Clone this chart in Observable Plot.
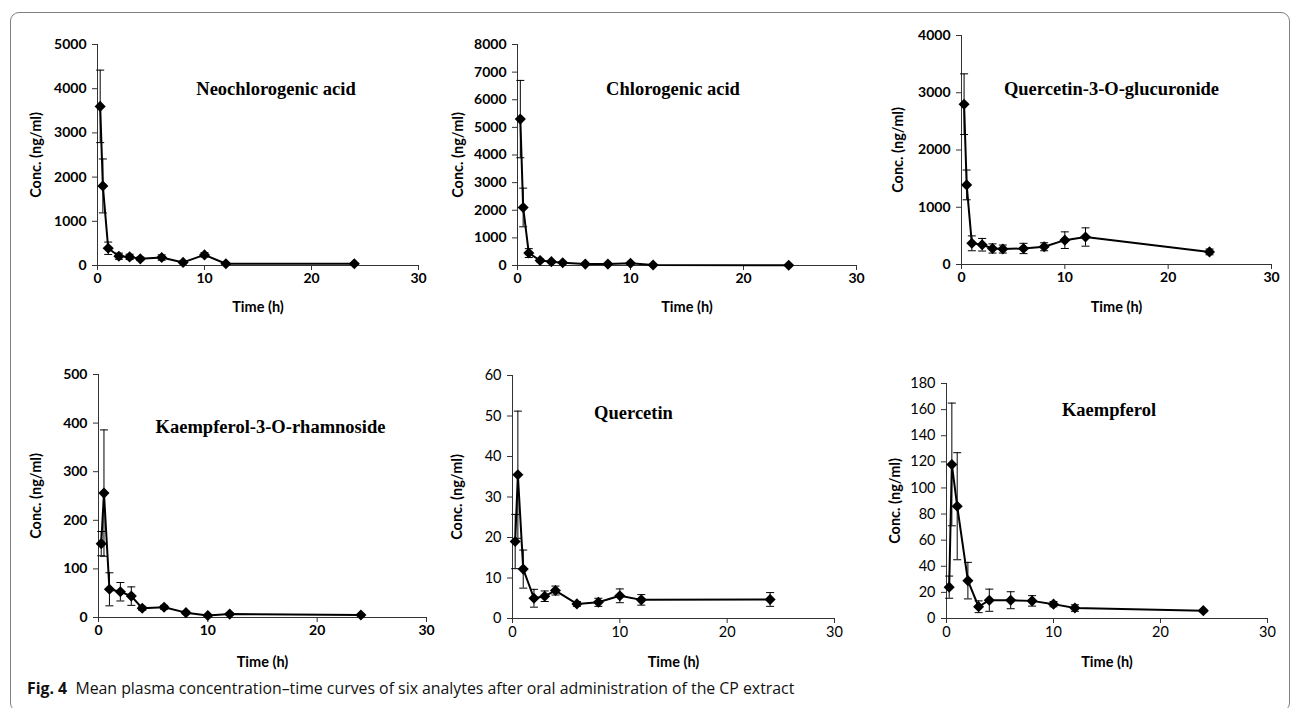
<!DOCTYPE html>
<html><head><meta charset="utf-8">
<script src="https://cdn.jsdelivr.net/npm/d3@7"></script>
<script src="https://cdn.jsdelivr.net/npm/@observablehq/plot@0.6"></script>
<style>
html,body{margin:0;padding:0;background:#fff}
body{width:1293px;height:708px;overflow:hidden;position:relative}
#frame{position:absolute;left:10px;top:12px;width:1280px;height:700px;border:1.5px solid #808080;border-radius:9px;box-sizing:border-box}
.panel{position:absolute}
.panel svg{background:transparent;max-width:none}
#caption{position:absolute;left:27px;top:677px;font-family:"Open Sans",sans-serif;font-size:16px;color:#111;white-space:nowrap;transform-origin:left center;transform:scaleX(0.99)}
#caption b{font-weight:700}
</style></head><body>
<div id="frame"></div>
<div id="charts"></div>
<div id="caption"><b>Fig. 4</b>&nbsp; Mean plasma concentration–time curves of six analytes after oral administration of the CP extract</div>
<script>
// ---- data ----
const times = [0.25, 0.5, 1, 2, 3, 4, 6, 8, 10, 12, 24];
const titles = ["Neochlorogenic acid", "Chlorogenic acid", "Quercetin-3-O-glucuronide",
                "Kaempferol-3-O-rhamnoside", "Quercetin", "Kaempferol"];
const neoMean = [3600, 1800, 390, 210, 195, 150, 180, 70, 240, 40, 40];
const neoSD   = [820, 610, 140, 70, 60, 40, 60, 30, 50, 20, 20];
const chlMean = [5300, 2100, 450, 180, 140, 100, 50, 50, 80, 20, 10];
const chlSD   = [1400, 700, 160, 50, 40, 30, 20, 20, 30, 10, 5];
const q3gMean = [2800, 1390, 370, 345, 280, 270, 280, 310, 425, 480, 220];
const q3gSD   = [530, 260, 130, 110, 80, 70, 90, 70, 145, 160, 50];
const k3rMean = [152, 256, 58, 53, 44, 19, 21, 10, 4, 7, 5];
const k3rSD   = [25, 130, 34, 19, 19, 4, 4, 3, 2, 2, 2];
const queMean = [19, 35.5, 12.2, 5.0, 5.5, 6.9, 3.6, 4.0, 5.6, 4.6, 4.7];
const queSD   = [6.7, 15.7, 4.7, 2.2, 1.3, 1.1, 0.6, 1.0, 1.7, 1.3, 1.7];
const kaeMean = [24, 118, 86, 29, 9, 14, 14, 13.5, 11, 8, 6];
const kaeSD   = [8.5, 47, 41, 14, 4.5, 8.5, 6.5, 4, 2, 2.5, 1];
const yTicks = [
  [0, 1000, 2000, 3000, 4000, 5000],
  [0, 1000, 2000, 3000, 4000, 5000, 6000, 7000, 8000],
  [0, 1000, 2000, 3000, 4000],
  [0, 100, 200, 300, 400, 500],
  [0, 10, 20, 30, 40, 50, 60],
  [0, 20, 40, 60, 80, 100, 120, 140, 160, 180]
];
const xTicks = [0, 10, 20, 30];
const means = [neoMean, chlMean, q3gMean, k3rMean, queMean, kaeMean];
const sds = [neoSD, chlSD, q3gSD, k3rSD, queSD, kaeSD];

// ---- layout (positions / styles only) ----
const layouts = [
  {ax: 97,  x30: 418,  yTop: 44,  y0: 265, bold: true,  tdx: 18,   tdy: 45, yl: 67, xl: 46},
  {ax: 517, x30: 856,  yTop: 44,  y0: 265, bold: true,  tdx: -14,  tdy: 45, yl: 65, xl: 46},
  {ax: 961, x30: 1271, yTop: 35,  y0: 264, bold: true,  tdx: -5,   tdy: 54, yl: 69, xl: 47},
  {ax: 98,  x30: 426,  yTop: 374, y0: 617, bold: true,  tdx: 8,    tdy: 53, yl: 68, xl: 49},
  {ax: 512, x30: 834,  yTop: 375, y0: 618, bold: false, tdx: -40,  tdy: 38, yl: 61, xl: 48},
  {ax: 946, x30: 1267, yTop: 383, y0: 618, bold: false, tdx: 2,    tdy: 27, yl: 57, xl: 48}
];

const capSymbol = {draw(ctx, size) { const w = Math.sqrt(size / Math.PI); ctx.moveTo(-w, 0); ctx.lineTo(w, 0); }};
const ML = 90, MR = 15, MT = 15, MB = 70;
const charts = document.getElementById("charts");

titles.forEach((title, i) => {
  const L = layouts[i];
  const rows = times.map((t, j) => ({t, m: means[i][j], sd: sds[i][j]}));
  const width = (L.x30 - L.ax) + ML + MR;
  const height = (L.y0 - L.yTop) + MT + MB;
  const fw = L.bold ? "bold" : "normal";
  const fs = L.bold ? 14 : 14.5;
  const chart = Plot.plot({
    width, height,
    marginLeft: ML, marginRight: MR, marginTop: MT, marginBottom: MB,
    style: {background: "transparent", fontFamily: "Lato", fontSize: "14px", color: "#000", overflow: "visible"},
    x: {domain: [0, 30]},
    y: {domain: [0, yTicks[i][yTicks[i].length - 1]]},
    marks: [
      Plot.ruleX([0], {stroke: "#333", strokeWidth: 1}),
      Plot.ruleY([0], {stroke: "#333", strokeWidth: 1}),
      Plot.axisY({ticks: yTicks[i], tickFormat: d => String(d), tickSize: 5, tickPadding: 6, stroke: "#333",
                  fontSize: fs, fontWeight: fw,
                  label: "Conc. (ng/ml)", labelAnchor: "center", labelArrow: "none", labelOffset: L.yl}),
      Plot.axisX({ticks: xTicks, tickFormat: d => String(d), tickSize: 5, tickPadding: 3, stroke: "#333",
                  fontSize: fs, fontWeight: fw,
                  label: "Time (h)", labelAnchor: "center", labelArrow: "none", labelOffset: L.xl}),
      Plot.ruleX(rows, {x: "t", y1: d => d.m - d.sd, y2: d => d.m + d.sd, stroke: "#000", strokeWidth: 1}),
      Plot.dot(rows, {x: "t", y: d => d.m + d.sd, symbol: capSymbol, r: 4, stroke: "#000", strokeWidth: 1, fill: "none"}),
      Plot.dot(rows, {x: "t", y: d => d.m - d.sd, symbol: capSymbol, r: 4, stroke: "#000", strokeWidth: 1, fill: "none"}),
      Plot.line(rows, {x: "t", y: "m", stroke: "#000", strokeWidth: 2}),
      Plot.dot(rows, {x: "t", y: "m", symbol: "diamond2", r: 5, fill: "#000", stroke: "none"}),
      Plot.text([title], {frameAnchor: "top", dx: L.tdx, dy: L.tdy, lineAnchor: "middle",
                          fontFamily: "Liberation Serif", fontWeight: "bold", fontSize: 18.5, fill: "#000"})
    ]
  });
  // bold axis titles
  chart.querySelectorAll("g[aria-label='y-axis label'], g[aria-label='x-axis label']").forEach(g => {
    g.setAttribute("font-weight", "bold"); g.setAttribute("font-size", "14.5");
    g.querySelectorAll("text").forEach(t => { t.setAttribute("font-weight", "bold"); t.setAttribute("font-size", "14.5"); });
  });
  const div = document.createElement("div");
  div.className = "panel";
  div.style.left = (L.ax - ML) + "px";
  div.style.top = (L.yTop - MT) + "px";
  div.appendChild(chart);
  charts.appendChild(div);
});
</script>
</body></html>
